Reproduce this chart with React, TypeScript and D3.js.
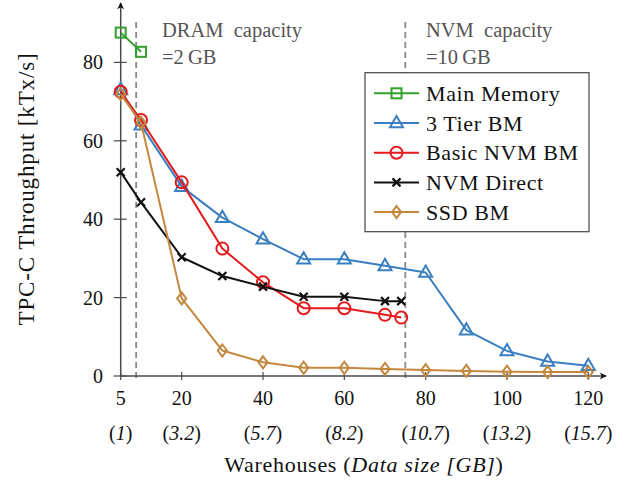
import React from "react";
import * as d3 from "d3";

const xTicks = [5, 20, 40, 60, 80, 100, 120];
const xSizeLabels = ["1", "3.2", "5.7", "8.2", "10.7", "13.2", "15.7"];
const yTicks = [0, 20, 40, 60, 80];

const mainX = [5, 10];
const mainY = [87.6, 82.7];
const tierX = [5, 10, 20, 30, 40, 50, 60, 70, 80, 90, 100, 110, 120];
const tierY = [73, 64, 48.3, 40.4, 34.9, 29.8, 29.8, 28.1, 26.4, 11.7, 6.4, 3.7, 2.6];
const basicX = [5, 10, 20, 30, 40, 50, 60, 70, 74];
const basicY = [72.5, 65.3, 49.4, 32.5, 23.9, 17.3, 17.3, 15.6, 14.9];
const directX = [5, 10, 20, 30, 40, 50, 60, 70, 74];
const directY = [52.0, 44.3, 30.3, 25.5, 22.8, 20.2, 20.2, 19.1, 19.1];
const ssdX = [5, 10, 20, 30, 40, 50, 60, 70, 80, 90, 100, 110, 120];
const ssdY = [71.9, 64.6, 19.8, 6.5, 3.5, 2.1, 2.1, 1.8, 1.5, 1.3, 1.1, 1.0, 1.0];

const dramX = 8.8;
const nvmX = 75;

type Series = { name: string; xs: number[]; ys: number[]; color: string; marker: string };
const series: Series[] = [
  { name: "Main Memory", xs: mainX, ys: mainY, color: "#33a02c", marker: "square" },
  { name: "3 Tier BM", xs: tierX, ys: tierY, color: "#3a7fc0", marker: "triangle" },
  { name: "Basic NVM BM", xs: basicX, ys: basicY, color: "#e41a1c", marker: "circle" },
  { name: "NVM Direct", xs: directX, ys: directY, color: "#111111", marker: "cross" },
  { name: "SSD BM", xs: ssdX, ys: ssdY, color: "#c4873e", marker: "diamond" },
];

const FONT = "Liberation Serif, DejaVu Serif, Times New Roman, serif";

function Marker({ type, x, y, color }: { type: string; x: number; y: number; color: string }) {
  const common = { fill: "none", stroke: color, strokeWidth: 2 };
  if (type === "square") return <rect x={x - 5} y={y - 5} width={10} height={10} {...common} />;
  if (type === "circle") return <circle cx={x} cy={y} r={6} {...common} />;
  if (type === "triangle")
    return <path d={`M${x},${y - 7}L${x + 6.5},${y + 4.3}L${x - 6.5},${y + 4.3}Z`} {...common} />;
  if (type === "diamond")
    return <path d={`M${x},${y - 6}L${x + 4.5},${y}L${x},${y + 6}L${x - 4.5},${y}Z`} {...common} />;
  return (
    <path d={`M${x - 4},${y - 4}L${x + 4},${y + 4}M${x - 4},${y + 4}L${x + 4},${y - 4}`} {...common} strokeWidth={2.2} />
  );
}

export default function App() {
  const x = d3.scaleLinear().domain([5, 120]).range([120.7, 588.3]);
  const y = d3.scaleLinear().domain([0, 80]).range([376, 62.4]);
  const axisColor = "#4a4a4a";
  const line = d3
    .line<[number, number]>()
    .x((d) => x(d[0]))
    .y((d) => y(d[1]));

  const legX = 365, legY = 72.7, legW = 224, legH = 159;
  const rowY = (i: number) => 93.3 + i * 29.7;

  return (
    <svg
      width={618}
      height={485}
      style={{ position: "absolute", left: 0, top: 0, background: "#fff", fontFamily: FONT }}
    >
      <defs>
        <marker id="arr" viewBox="0 0 10 10" refX="9" refY="5" markerWidth="7" markerHeight="7" orient="auto" markerUnits="userSpaceOnUse">
          <path d="M0,0L10,5L0,10L3,5Z" fill="#111" />
        </marker>
      </defs>

      {/* dashed capacity lines */}
      {[dramX, nvmX].map((v, i) => (
        <line key={i} x1={x(v)} x2={x(v)} y1={22} y2={380} stroke="#888" strokeWidth={1.8} strokeDasharray="6,4" />
      ))}

      {/* annotations */}
      <g fill="#555" fontSize={20.5} style={{ fontFamily: FONT }}>
        <text x={162} y={37}>DRAM&#160;&#160;capacity</text>
        <text x={162} y={64}>=2{"\u2009"}GB</text>
        <text x={426} y={37}>NVM&#160;&#160;capacity</text>
        <text x={426} y={64}>=10{"\u2009"}GB</text>
      </g>

      {/* axes */}
      <line x1={x(5)} x2={606} y1={y(0)} y2={y(0)} stroke={axisColor} strokeWidth={1.5} markerEnd="url(#arr)" />
      <line x1={x(5)} x2={x(5)} y1={y(0)} y2={3} stroke={axisColor} strokeWidth={1.5} markerEnd="url(#arr)" />
      {xTicks.map((t) => (
        <line key={t} x1={x(t)} x2={x(t)} y1={y(0) - 4} y2={y(0) + 4} stroke={axisColor} strokeWidth={1.2} />
      ))}
      {yTicks.map((t) => (
        <line key={t} x1={x(5) - 7} x2={x(5) + 6} y1={y(t)} y2={y(t)} stroke={axisColor} strokeWidth={1.2} />
      ))}

      {/* tick labels */}
      <g fontSize={20} fill="#111" textAnchor="middle" style={{ fontFamily: FONT }}>
        {xTicks.map((t) => (
          <text key={t} x={x(t)} y={405}>{t}</text>
        ))}
        {xTicks.map((t, i) => (
          <text key={"s" + t} x={x(t)} y={440}>
            (<tspan fontStyle="italic">{xSizeLabels[i]}</tspan>)
          </text>
        ))}
      </g>
      <g fontSize={20} fill="#111" textAnchor="end" style={{ fontFamily: FONT }}>
        {yTicks.map((t) => (
          <text key={t} x={103} y={y(t)} dy="0.35em">{t}</text>
        ))}
      </g>

      {/* axis titles */}
      <text x={364} y={472} textAnchor="middle" fontSize={22} letterSpacing={0.7} fill="#111" style={{ fontFamily: FONT }}>
        Warehouses (<tspan fontStyle="italic">Data size [GB]</tspan>)
      </text>
      <text transform="translate(34,189) rotate(-90)" textAnchor="middle" fontSize={23} letterSpacing={0.85} fill="#111" style={{ fontFamily: FONT }}>
        TPC-C Throughput [kTx/s]
      </text>

      {/* series */}
      {series.map((s) => {
        const pts: [number, number][] = s.xs.map((v, i) => [v, s.ys[i]]);
        return (
          <g key={s.name}>
            <path d={line(pts) || ""} fill="none" stroke={s.color} strokeWidth={2} strokeLinejoin="round" />
            {pts.map((p, i) => (
              <Marker key={i} type={s.marker} x={x(p[0])} y={y(p[1])} color={s.color} />
            ))}
          </g>
        );
      })}

      {/* legend */}
      <rect x={legX} y={legY} width={legW} height={legH} fill="#fff" stroke="#444" strokeWidth={1.2} />
      {series.map((s, i) => (
        <g key={s.name}>
          <line x1={374} x2={419} y1={rowY(i)} y2={rowY(i)} stroke={s.color} strokeWidth={2} />
          <Marker type={s.marker} x={396.5} y={rowY(i)} color={s.color} />
          <text x={426} y={rowY(i)} dy="0.35em" fontSize={22} letterSpacing={0.6} fill="#111" style={{ fontFamily: FONT }}>{s.name}</text>
        </g>
      ))}
    </svg>
  );
}
